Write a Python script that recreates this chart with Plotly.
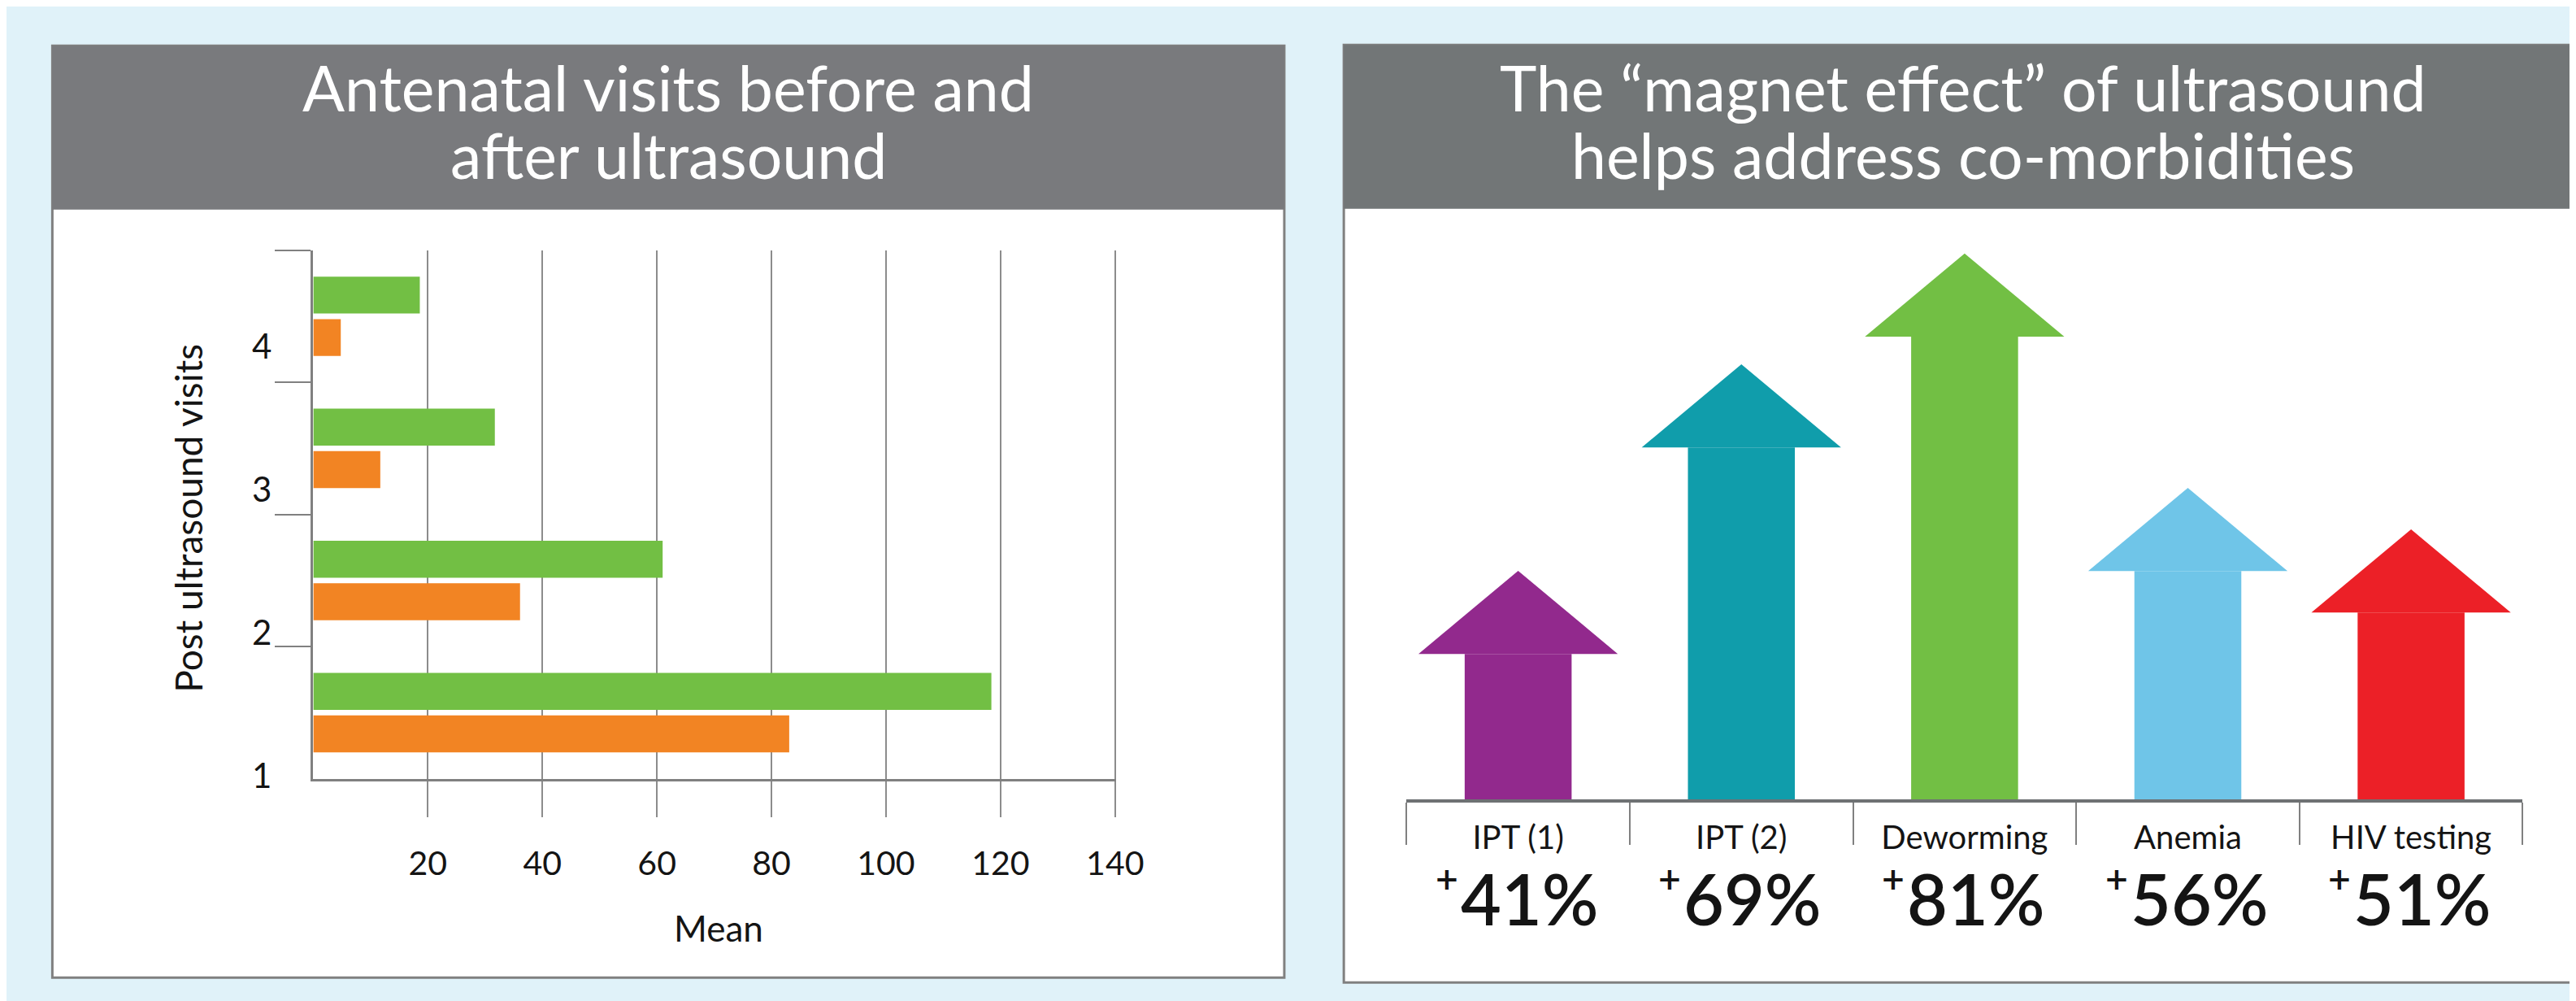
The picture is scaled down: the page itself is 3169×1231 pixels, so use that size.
import plotly.graph_objects as go

W, H = 3169, 1231

# ---------------- Data ----------------
# Left chart: antenatal visits before / after ultrasound
visit_counts = [1, 2, 3, 4]
before_means = [83.1, 36.1, 11.7, 4.8]     # orange bars
after_means = [118.4, 61.0, 31.7, 18.6]    # green bars
x_tick_values = [20, 40, 60, 80, 100, 120, 140]
visit_labels = ["1", "2", "3", "4"]

# Right chart: "magnet effect" arrows
services = ["IPT (1)", "IPT (2)", "Deworming", "Anemia", "HIV testing"]
increase_pct = [41, 69, 81, 56, 51]
arrow_heights = [26.0, 62.9, 82.7, 40.8, 33.4]   # shaft heights as drawn
arrow_colors = ["#92298D", "#109DAB", "#72BF44", "#6FC5E8", "#EC2027"]

# ---------------- Styling ----------------
FONT = "Lato"
BG = "#E0F2F9"
HEAD_L = "#797A7D"
HEAD_R = "#727677"
BORDER = "#808080"
GRID = "#8C8C8C"
TXT = "#141414"
ORANGE = "#F28423"
GREEN = "#72BF44"
HEAD_H = 14.86      # arrow head height (y units)
HEAD_HALF = 0.4465  # arrow head half width (category units)
SHAFT_W = 0.479
PCT_SIZE = 86
PLUS_SIZE = 48


def px(x):
    return x / W


def py(y):
    return 1 - y / H


fig = go.Figure()

# Left grouped horizontal bars
fig.add_trace(go.Bar(y=visit_counts, x=before_means, orientation="h", name="Before",
                     marker=dict(color=ORANGE, line=dict(width=0)),
                     xaxis="x", yaxis="y", showlegend=False))
fig.add_trace(go.Bar(y=visit_counts, x=after_means, orientation="h", name="After",
                     marker=dict(color=GREEN, line=dict(width=0)),
                     xaxis="x", yaxis="y", showlegend=False))
# helper (invisible) trace so the label axis y2 is drawn
fig.add_trace(go.Scatter(x=[0], y=[1], xaxis="x", yaxis="y2", mode="markers",
                         marker=dict(opacity=0), hoverinfo="skip", showlegend=False))

# Right arrows: shafts as bars
fig.add_trace(go.Bar(x=list(range(len(services))), y=arrow_heights, width=SHAFT_W,
                     marker=dict(color=arrow_colors, line=dict(width=0)),
                     xaxis="x3", yaxis="y3", showlegend=False, name="Increase"))
# heads
for i, (h, c) in enumerate(zip(arrow_heights, arrow_colors)):
    fig.add_trace(go.Scatter(x=[i - HEAD_HALF, i, i + HEAD_HALF, i - HEAD_HALF],
                             y=[h, h + HEAD_H, h, h], mode="lines", fill="toself",
                             fillcolor=c, line=dict(width=0, color=c),
                             xaxis="x3", yaxis="y3", hoverinfo="skip", showlegend=False))
# helper trace for category label axis x4
fig.add_trace(go.Scatter(x=[0], y=[0], xaxis="x4", yaxis="y3", mode="markers",
                         marker=dict(opacity=0), hoverinfo="skip", showlegend=False))

# ---------------- Panels ----------------
shapes = [
    dict(type="rect", xref="paper", yref="paper", x0=px(57), x1=px(1589), y0=py(1215), y1=py(49),
         fillcolor="white", line=dict(color=BORDER, width=3), layer="below"),
    dict(type="rect", xref="paper", yref="paper", x0=px(57), x1=px(1589), y0=py(254), y1=py(49),
         fillcolor=HEAD_L, line=dict(width=0), layer="below"),
    dict(type="rect", xref="paper", yref="paper", x0=px(1663), x1=px(3230), y0=py(1221), y1=py(48),
         fillcolor="white", line=dict(color=BORDER, width=3), layer="below"),
    dict(type="rect", xref="paper", yref="paper", x0=px(1663), x1=px(3230), y0=py(253), y1=py(48),
         fillcolor=HEAD_R, line=dict(width=0), layer="below"),
]

annotations = []
# Titles
for text, x, y in [("Antenatal visits before and", 823, 101), ("after ultrasound", 823, 185),
                   ("The \u201cmagnet effect\u201d of ultrasound", 2433, 101),
                   ("helps address co-morbidities", 2433, 185)]:
    annotations.append(dict(text=text, x=px(x), y=py(y), xref="paper", yref="paper",
                            xanchor="center", yanchor="middle", showarrow=False,
                            font=dict(family=FONT, size=77, color="white")))
# Axis titles (left chart)
annotations.append(dict(text="Post ultrasound visits", x=px(226), y=py(640), xref="paper", yref="paper",
                        textangle=-90, showarrow=False, xanchor="center", yanchor="middle",
                        font=dict(family=FONT, size=46, color=TXT)))
annotations.append(dict(text="Mean", x=px(885), y=py(1153), xref="paper", yref="paper",
                        showarrow=False, xanchor="center", yanchor="middle",
                        font=dict(family=FONT, size=44, color=TXT)))
# Percentages (right chart): number plus a small raised "+"
num_half_w = 88  # approx half width of "NN%" in pixels
for i, p in enumerate(increase_pct):
    annotations.append(dict(text=f"{p}%", x=i, xref="x3", y=py(1116), yref="paper",
                            xshift=14, showarrow=False, xanchor="center", yanchor="middle",
                            font=dict(family=FONT, size=PCT_SIZE, color=TXT, weight=600)))
    annotations.append(dict(text="+", x=i, xref="x3", y=py(1090), yref="paper",
                            xshift=14 - num_half_w + 2, showarrow=False, xanchor="right",
                            yanchor="middle",
                            font=dict(family=FONT, size=PLUS_SIZE, color=TXT, weight=600)))

fig.update_layout(
    width=W, height=H,
    margin=dict(l=0, r=0, t=0, b=0),
    paper_bgcolor=BG, plot_bgcolor="rgba(0,0,0,0)",
    barmode="group", bargap=0.357, bargroupgap=0.13,
    shapes=shapes, annotations=annotations,
    font=dict(family=FONT, color=TXT),
    xaxis=dict(domain=[px(381.5), px(1380)], anchor="y", range=[0, 140.2],
               tickvals=x_tick_values, showgrid=True, gridcolor=GRID, gridwidth=2,
               ticks="outside", ticklen=44, tickwidth=2, tickcolor=GRID,
               showline=True, linecolor=BORDER, linewidth=3, zeroline=False,
               tickfont=dict(family=FONT, size=41, color=TXT), ticklabelstandoff=22),
    yaxis=dict(domain=[py(966), py(305)], anchor="x", range=[0.5, 4.5],
               tickvals=[1.5, 2.5, 3.5, 4.5], ticks="outside", ticklen=44, tickwidth=2,
               tickcolor=BORDER, showticklabels=False, showline=True, linecolor=BORDER,
               linewidth=3, showgrid=False, zeroline=False),
    yaxis2=dict(overlaying="y", anchor="x", side="left", range=[0.983, 4.675],
                tickvals=visit_counts, ticktext=visit_labels, ticks="", showline=False,
                showgrid=False, zeroline=False, ticklabelstandoff=50,
                tickfont=dict(family=FONT, size=42, color=TXT)),
    xaxis3=dict(domain=[px(1741), px(3129)], anchor="y3", range=[-0.5, 4.5],
                tickvals=[-0.5, 0.5, 1.5, 2.5, 3.5, 4.5], ticks="outside", ticklen=52,
                tickwidth=2, tickcolor=BORDER, showticklabels=False, showline=True,
                linecolor="#6E7173", linewidth=4, showgrid=False, zeroline=False),
    xaxis4=dict(overlaying="x3", anchor="y3", side="bottom", range=[-0.5, 4.5],
                tickvals=list(range(len(services))), ticktext=services, ticks="",
                showline=False, showgrid=False, zeroline=False, ticklabelstandoff=20,
                tickfont=dict(family=FONT, size=40, color=TXT)),
    yaxis3=dict(domain=[py(992), py(292)], anchor="x3", range=[0, 100], visible=False),
)

fig.write_html("out.html")
